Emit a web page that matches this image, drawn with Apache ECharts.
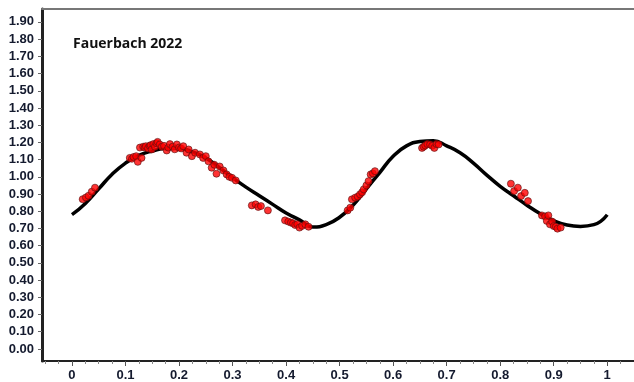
<!DOCTYPE html>
<html>
<head>
<meta charset="utf-8">
<script src="https://cdn.jsdelivr.net/npm/echarts@6/dist/echarts.min.js"></script>
<style>
html,body{margin:0;padding:0;background:#fff;}
#chart{width:634px;height:382px;}
</style>
</head>
<body>
<div id="chart"></div>
<script>
// Model curve (phase, value)
const curvePhase = [0.000,0.025,0.050,0.075,0.100,0.125,0.150,0.175,0.200,0.225,0.250,0.275,0.300,0.325,0.350,0.375,0.400,0.425,0.450,0.475,0.500,0.525,0.550,0.575,0.600,0.625,0.650,0.675,0.700,0.725,0.750,0.775,0.800,0.825,0.850,0.875,0.900,0.925,0.950,0.975,1.000];
const curveValue = [0.78,0.845,0.93,1.015,1.08,1.125,1.15,1.165,1.165,1.145,1.11,1.055,0.995,0.94,0.89,0.84,0.79,0.75,0.708,0.722,0.765,0.835,0.93,1.025,1.12,1.18,1.205,1.21,1.18,1.14,1.08,1.01,0.945,0.89,0.835,0.785,0.745,0.72,0.712,0.722,0.78];

// Observations (phase, value)
const obsPhase = [0.020,0.026,0.031,0.037,0.043,
  0.108,0.112,0.115,0.120,0.123,0.127,0.130,0.133,0.136,0.138,0.142,0.145,0.147,0.149,0.152,0.155,0.158,0.160,0.164,0.168,0.172,0.177,0.180,0.183,0.188,0.192,0.196,0.200,0.204,0.208,0.214,
  0.218,0.224,0.230,0.239,0.245,0.250,0.255,0.261,0.266,0.270,0.276,0.283,0.289,0.294,0.299,0.306,
  0.336,0.343,0.348,0.353,0.366,
  0.398,0.404,0.409,0.413,0.417,0.421,0.425,0.430,0.436,0.442,
  0.515,0.520,0.523,0.529,0.534,0.538,0.542,0.545,0.550,0.554,0.558,0.562,0.566,
  0.654,0.657,0.660,0.664,0.669,0.673,0.677,0.681,0.685,
  0.820,0.826,0.833,0.839,0.846,0.852,
  0.878,0.884,0.887,0.890,0.893,0.897,0.900,0.904,0.907,0.913];
const obsValue = [0.87,0.88,0.89,0.914,0.937,
  1.11,1.105,1.115,1.12,1.087,1.17,1.11,1.175,1.17,1.178,1.165,1.18,1.184,1.159,1.19,1.175,1.195,1.203,1.188,1.175,1.18,1.153,1.17,1.19,1.175,1.16,1.188,1.17,1.165,1.178,1.14,
  1.159,1.12,1.14,1.13,1.11,1.12,1.09,1.053,1.07,1.018,1.06,1.037,1.014,1.00,0.994,0.979,
  0.834,0.84,0.825,0.83,0.805,
  0.747,0.74,0.734,0.73,0.72,0.725,0.705,0.715,0.724,0.71,
  0.805,0.821,0.869,0.879,0.885,0.898,0.91,0.927,0.95,0.975,1.014,1.02,1.033,
  1.168,1.175,1.182,1.19,1.188,1.18,1.168,1.19,1.188,
  0.96,0.917,0.937,0.888,0.907,0.859,
  0.776,0.77,0.744,0.776,0.724,0.74,0.714,0.71,0.699,0.705];

const yTicks = [0,0.1,0.2,0.3,0.4,0.5,0.6,0.7,0.8,0.9,1.0,1.1,1.2,1.3,1.4,1.5,1.6,1.7,1.8,1.9];
const xTicks = [0,0.1,0.2,0.3,0.4,0.5,0.6,0.7,0.8,0.9,1];
const xMinorTicks = [-0.05,-0.025,0.025,0.05,0.075,0.125,0.15,0.175,0.225,0.25,0.275,0.325,0.35,0.375,0.425,0.45,0.475,0.525,0.55,0.575,0.625,0.65,0.675,0.725,0.75,0.775,0.825,0.85,0.875,0.925,0.95,0.975,1.025];
const titleText = 'Fauerbach 2022';

const X_MIN = -0.056, X_MAX = 1.05, Y_MIN = -0.07, Y_MAX = 1.975;

const curveData = curvePhase.map((p, i) => [p, curveValue[i]]);
const obsData = obsPhase.map((p, i) => [p, obsValue[i]]);

const labelStyle = {
  fontFamily: 'Liberation Sans, Arial, sans-serif',
  fontWeight: 'bold',
  fontSize: 13,
  color: '#141a2e'
};

const chart = echarts.init(document.getElementById('chart'), null, {renderer: 'canvas'});
chart.setOption({
  animation: false,
  backgroundColor: '#ffffff',
  title: {
    text: titleText,
    left: 68, top: 32,
    textStyle: {fontFamily: 'Open Sans, sans-serif', fontWeight: 'bold', fontSize: 14, color: '#111'}
  },
  grid: {left: 42, right: 0, top: 9, bottom: 20, containLabel: false},
  xAxis: [
    {
      type: 'value', position: 'bottom', min: X_MIN, max: X_MAX,
      axisLine: {show: true, onZero: false, lineStyle: {color: '#222', width: 2}},
      axisTick: {show: true, inside: false, length: 5, lineStyle: {color: '#555', width: 1}, customValues: xTicks},
      axisLabel: Object.assign({margin: 8, customValues: xTicks, formatter: v => String(+v.toFixed(1))}, labelStyle),
      splitLine: {show: false}
    },
    {
      type: 'value', position: 'bottom', min: X_MIN, max: X_MAX,
      axisLine: {show: false, onZero: false},
      axisTick: {show: true, length: 3, lineStyle: {color: '#888', width: 1}, customValues: xMinorTicks},
      axisLabel: {show: false},
      splitLine: {show: false}
    },
    {
      type: 'value', position: 'top', min: X_MIN, max: X_MAX,
      axisLine: {show: true, onZero: false, lineStyle: {color: '#777', width: 2}},
      axisTick: {show: false}, axisLabel: {show: false}, splitLine: {show: false}
    }
  ],
  yAxis: {
    type: 'value', position: 'left', min: Y_MIN, max: Y_MAX,
    axisLine: {show: true, onZero: false, lineStyle: {color: '#222', width: 3}},
    axisTick: {show: true, length: 4, lineStyle: {color: '#666', width: 1}, customValues: yTicks},
    axisLabel: Object.assign({margin: 8, customValues: yTicks, formatter: v => v.toFixed(2)}, labelStyle),
    splitLine: {show: false}
  },
  series: [
    {
      type: 'line', xAxisIndex: 0, data: curveData, smooth: 0.5, showSymbol: false, symbol: 'none',
      lineStyle: {color: '#000', width: 3.5}, z: 3
    },
    {
      type: 'scatter', xAxisIndex: 0, data: obsData, symbol: 'circle', symbolSize: 7,
      itemStyle: {color: '#ff0000', borderColor: '#5a1010', borderWidth: 0.8}, z: 4
    }
  ]
});
</script>
</body>
</html>
